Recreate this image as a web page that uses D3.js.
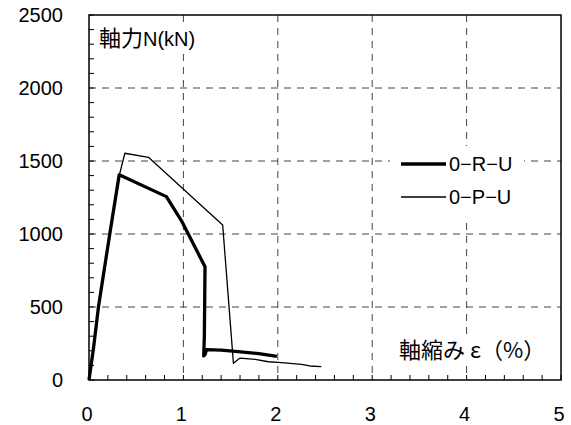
<!DOCTYPE html>
<html>
<head>
<meta charset="utf-8">
<script src="https://cdn.jsdelivr.net/npm/d3@7"></script>
<style>
  body { margin: 0; background: #fff; }
  text { font-family: "Liberation Sans", "Noto Sans CJK JP", sans-serif; }
</style>
</head>
<body>
<div id="chart"></div>
<script>
// 0-R-U (thick)
var strainRU = [0, 0.05, 0.1, 0.22, 0.32, 0.82, 0.98, 1.229, 1.222, 1.215, 1.23, 1.245, 1.4, 1.58, 1.8, 1.99];
var loadRU   = [0, 230, 500, 1000, 1405, 1256, 1090, 776, 300, 165, 175, 208, 205, 195, 180, 162];
// 0-P-U (thin)
var strainPU = [0, 0.1, 0.22, 0.32, 0.38, 0.63, 1.416, 1.53, 1.6, 1.76, 1.9, 2.04, 2.25, 2.34, 2.46];
var loadPU   = [0, 500, 1000, 1400, 1553, 1525, 1062, 114, 150, 141, 125, 119, 107, 96, 91];

var seriesNames = ["0\u2212R\u2212U", "0\u2212P\u2212U"];
var xTicks = [0, 1, 2, 3, 4, 5];
var yTicks = [0, 500, 1000, 1500, 2000, 2500];

var width = 571, height = 425;
var plotL = 89, plotR = 561, plotT = 15, plotB = 380;

var svg = d3.select("#chart").append("svg")
    .attr("width", width).attr("height", height);

var x = d3.scaleLinear().domain([0, 5]).range([plotL, plotR]);
var y = d3.scaleLinear().domain([0, 2500]).range([plotB, plotT]);

// grid
svg.selectAll(".vgrid").data(xTicks.slice(1, -1)).enter().append("line")
    .attr("x1", function(d){ return x(d); }).attr("x2", function(d){ return x(d); })
    .attr("y1", plotT).attr("y2", plotB)
    .attr("stroke", "#444").attr("stroke-width", 1).attr("stroke-dasharray", "7,6");
svg.selectAll(".hgrid").data(yTicks.slice(1, -1)).enter().append("line")
    .attr("y1", function(d){ return y(d); }).attr("y2", function(d){ return y(d); })
    .attr("x1", plotL).attr("x2", plotR)
    .attr("stroke", "#444").attr("stroke-width", 1).attr("stroke-dasharray", "7,6");

// minor ticks (inward)
svg.selectAll(".xminor").data(d3.range(0, 5.001, 0.2)).enter().append("line")
    .attr("x1", function(d){ return x(d); }).attr("x2", function(d){ return x(d); })
    .attr("y1", plotB).attr("y2", plotB - 5)
    .attr("stroke", "#000").attr("stroke-width", 1);
svg.selectAll(".yminor").data(d3.range(0, 2501, 100)).enter().append("line")
    .attr("y1", function(d){ return y(d); }).attr("y2", function(d){ return y(d); })
    .attr("x1", plotL).attr("x2", plotL + 5)
    .attr("stroke", "#000").attr("stroke-width", 1);

// white boxes behind labels
svg.append("rect").attr("x", 95).attr("y", 23).attr("width", 106).attr("height", 30).attr("fill", "#fff");
svg.append("rect").attr("x", 395).attr("y", 336).attr("width", 142).attr("height", 28).attr("fill", "#fff");
svg.append("rect").attr("x", 390).attr("y", 146).attr("width", 134).attr("height", 72).attr("fill", "#fff");

// curves
var line = d3.line()
    .x(function(d){ return x(d[0]); })
    .y(function(d){ return y(d[1]); });

svg.append("path")
    .datum(d3.zip(strainPU, loadPU))
    .attr("d", line)
    .attr("fill", "none").attr("stroke", "#000").attr("stroke-width", 1.3)
    .attr("stroke-linejoin", "round");
svg.append("path")
    .datum(d3.zip(strainRU, loadRU))
    .attr("d", line)
    .attr("fill", "none").attr("stroke", "#000").attr("stroke-width", 3.3)
    .attr("stroke-linejoin", "round");

// frame
svg.append("rect").attr("x", plotL).attr("y", plotT)
    .attr("width", plotR - plotL).attr("height", plotB - plotT)
    .attr("fill", "none").attr("stroke", "#000").attr("stroke-width", 1.5);

// tick labels
svg.selectAll(".ylab").data(yTicks).enter().append("text")
    .attr("x", 63).attr("y", function(d){ return y(d); }).attr("dy", "0.36em")
    .attr("text-anchor", "end").attr("font-size", "20px")
    .text(function(d){ return d; });
svg.selectAll(".xlab").data(xTicks).enter().append("text")
    .attr("x", function(d){ return x(d) - 2; }).attr("y", 421)
    .attr("text-anchor", "middle").attr("font-size", "20px")
    .text(function(d){ return d; });

// axis titles
var yTitle = svg.append("text").attr("x", 99).attr("y", 46);
yTitle.append("tspan").attr("font-size", "22px")
    .style("font-family", "'Noto Sans CJK JP', sans-serif").text("軸力");
yTitle.append("tspan").attr("font-size", "20px").text("N(kN)");
svg.append("text").attr("x", 399).attr("y", 358).attr("font-size", "22px")
    .style("font-family", "'Noto Sans CJK JP', sans-serif")
    .text("軸縮み ε（%）");

// legend
var legendY = [164, 197];
var legendW = [3.3, 1.3];
svg.selectAll(".legline").data(seriesNames).enter().append("line")
    .attr("x1", 401).attr("x2", 446)
    .attr("y1", function(d, i){ return legendY[i]; }).attr("y2", function(d, i){ return legendY[i]; })
    .attr("stroke", "#000").attr("stroke-width", function(d, i){ return legendW[i]; });
svg.selectAll(".legtext").data(seriesNames).enter().append("text")
    .attr("x", 449).attr("y", function(d, i){ return legendY[i] + 7; })
    .attr("font-size", "20px")
    .text(function(d){ return d; });
</script>
</body>
</html>
